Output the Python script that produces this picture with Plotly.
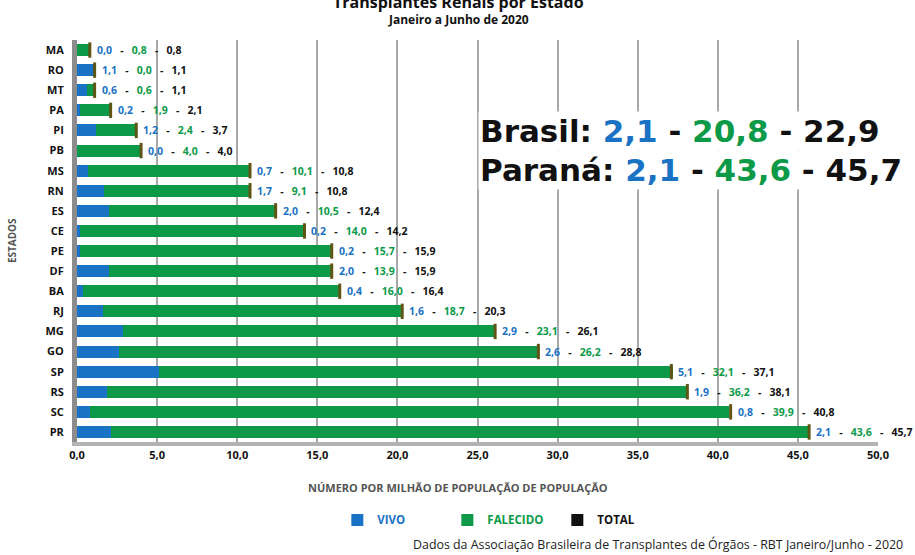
import plotly.graph_objects as go

estados = ["MA", "RO", "MT", "PA", "PI", "PB", "MS", "RN", "ES", "CE",
           "PE", "DF", "BA", "RJ", "MG", "GO", "SP", "RS", "SC", "PR"]
vivo = [0.0, 1.1, 0.6, 0.2, 1.2, 0.0, 0.7, 1.7, 2.0, 0.2,
        0.2, 2.0, 0.4, 1.6, 2.9, 2.6, 5.1, 1.9, 0.8, 2.1]
falecido = [0.8, 0.0, 0.6, 1.9, 2.4, 4.0, 10.1, 9.1, 10.5, 14.0,
            15.7, 13.9, 16.0, 18.7, 23.1, 26.2, 32.1, 36.2, 39.9, 43.6]
total = [0.8, 1.1, 1.1, 2.1, 3.7, 4.0, 10.8, 10.8, 12.4, 14.2,
         15.9, 15.9, 16.4, 20.3, 26.1, 28.8, 37.1, 38.1, 40.8, 45.7]
x_ticks = [0, 5, 10, 15, 20, 25, 30, 35, 40, 45, 50]

brasil = (2.1, 20.8, 22.9)
parana = (2.1, 43.6, 45.7)

AZUL = "#1a72c4"
VERDE = "#0c9a48"
PRETO = "#111111"
FONTE = "Open Sans"


def br(v):
    return f"{v:.1f}".replace(".", ",")


def rotulo(v, f, t, sep="   -   "):
    return (f"<span style='color:{AZUL}'>{br(v)}</span>"
            f"<span style='color:{PRETO}'>{sep}</span>"
            f"<span style='color:{VERDE}'>{br(f)}</span>"
            f"<span style='color:{PRETO}'>{sep}{br(t)}</span>")


fig = go.Figure()
fig.add_trace(go.Bar(y=estados, x=vivo, orientation="h", name=f"<span style='color:{AZUL}'>VIVO</span>",
                     marker=dict(color=AZUL, line_width=0), width=0.6))
fig.add_trace(go.Bar(y=estados, x=falecido, orientation="h",
                     name=f"<span style='color:{VERDE}'>FALECIDO</span>",
                     marker=dict(color=VERDE, line_width=0), width=0.6))
fig.add_trace(go.Bar(y=estados, x=[0] * len(estados), orientation="h", name="TOTAL",
                     marker=dict(color=PRETO, line_width=0), width=0.6))
# pontas dos cilindros
fig.add_trace(go.Scatter(y=estados, x=total, mode="markers", showlegend=False, hoverinfo="skip",
                         marker=dict(symbol="line-ns", size=11, line=dict(width=3, color="#5f5514"))))

for e, v, f, t in zip(estados, vivo, falecido, total):
    fig.add_annotation(x=t, y=e, text=rotulo(v, f, t), showarrow=False, xanchor="left",
                       xshift=5, font=dict(family=FONTE, size=10.5, color=PRETO, weight="bold"))

fig.add_annotation(xref="paper", yref="paper", x=0.5, y=0.774, xanchor="left", yanchor="middle",
                   text="Brasil: " + rotulo(*brasil, sep=" - "),
                   showarrow=False, bgcolor="white",
                   font=dict(family="DejaVu Sans", size=31, color=PRETO, weight="bold"))
fig.add_annotation(xref="paper", yref="paper", x=0.5, y=0.677, xanchor="left", yanchor="middle",
                   text="Paraná: " + rotulo(*parana, sep=" - "),
                   showarrow=False, bgcolor="white",
                   font=dict(family="DejaVu Sans", size=31, color=PRETO, weight="bold"))

fig.add_annotation(xref="paper", yref="paper", x=0.476, y=1.095, yanchor="middle",
                   text="Transplantes Renais por Estado",
                   showarrow=False, font=dict(family=FONTE, size=16, color=PRETO, weight="bold"))
fig.add_annotation(xref="paper", yref="paper", x=0.476, y=1.052, yanchor="middle",
                   text="Janeiro a Junho de 2020",
                   showarrow=False, font=dict(family=FONTE, size=12, color=PRETO, weight="bold"))
fig.add_annotation(xref="paper", yref="paper", x=0.476, y=-0.112, yanchor="middle",
                   text="NÚMERO POR MILHÃO DE POPULAÇÃO DE POPULAÇÃO",
                   showarrow=False, font=dict(family=FONTE, size=11, color="#555555", weight="bold"))
fig.add_annotation(xref="paper", yref="paper", x=-0.081, y=0.5, xanchor="center", yanchor="middle",
                   text="ESTADOS", textangle=-90,
                   showarrow=False, font=dict(family=FONTE, size=10, color="#555555", weight="bold"))
fig.add_annotation(xref="paper", yref="paper", x=1.034, y=-0.256, xanchor="right", yanchor="middle",
                   text="Dados da Associação Brasileira de Transplantes de Órgãos - RBT Janeiro/Junho - 2020",
                   showarrow=False, font=dict(family=FONTE, size=12.4, color="#222222"))

fig.update_layout(
    width=915, height=555,
    margin=dict(l=77, r=37, t=40, b=113),
    barmode="stack", bargap=0.4,
    paper_bgcolor="white", plot_bgcolor="white",
    font=dict(family=FONTE, size=11, color=PRETO),
    legend=dict(orientation="h", x=0.531, xanchor="center", y=-0.194, yanchor="middle",
                font=dict(family=FONTE, size=11.5, weight="bold"), traceorder="normal",
                itemwidth=30, entrywidth=65),
    xaxis=dict(range=[0, 50], tickvals=x_ticks, ticktext=[br(v) for v in x_ticks],
               showgrid=True, gridcolor="#a8a8a8", gridwidth=1.5, zeroline=False,
               showline=True, linecolor="#b3b3b3", linewidth=4, ticks="",
               tickfont=dict(family=FONTE, size=11, color=PRETO, weight="bold")),
    yaxis=dict(categoryorder="array", categoryarray=estados, range=[19.5, -0.5],
               showgrid=False, showline=True, linecolor="#8c8c8c", linewidth=5, ticks="",
               ticklabelstandoff=6,
               tickfont=dict(family=FONTE, size=11, color=PRETO, weight="bold")),
)

# tira a margem padrão do body para o gráfico ocupar a janela toda
fig.write_html("out.html", config={"displayModeBar": False},
               post_script="document.body.style.margin='0px';")
